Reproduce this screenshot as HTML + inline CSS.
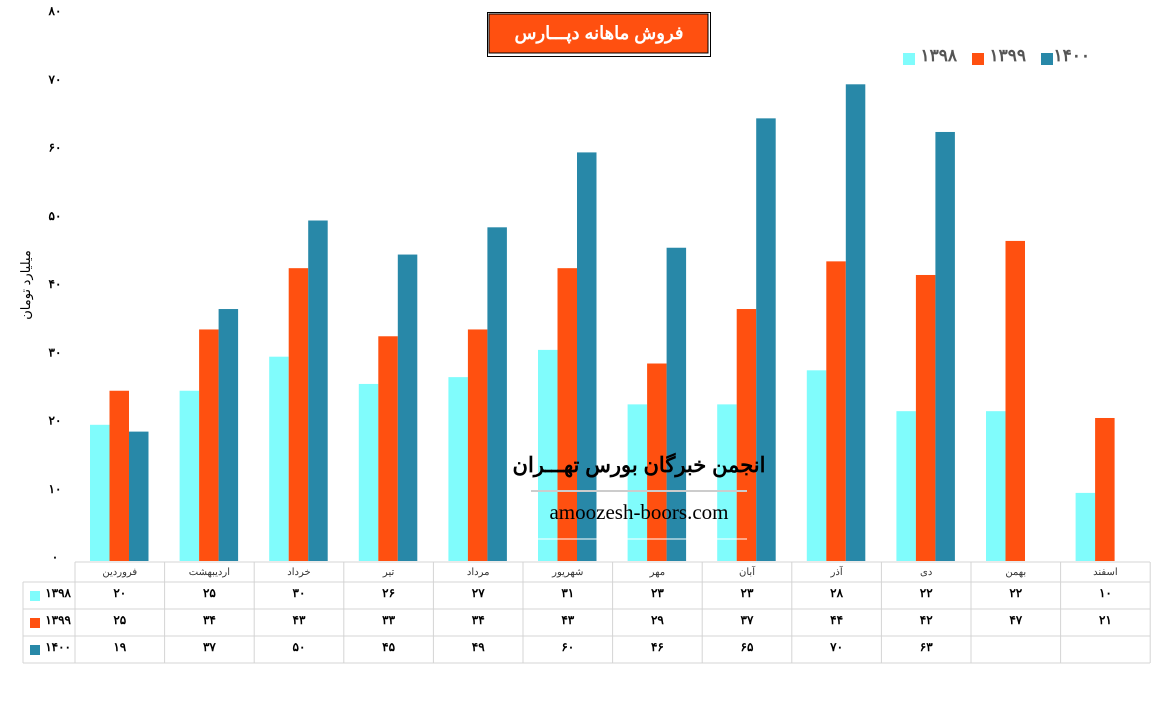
<!DOCTYPE html>
<html><head><meta charset="utf-8"><style>
body{margin:0;background:#fff;width:1163px;height:715px;overflow:hidden}
svg text{font-family:"Liberation Sans","Noto Sans CJK SC",sans-serif}
svg text.serif{font-family:"Liberation Serif",serif}
</style></head><body>
<svg id="s" width="1163" height="715" xmlns="http://www.w3.org/2000/svg"></svg>
<script>
const fa=n=>String(n).replace(/\d/g,d=>'۰۱۲۳۴۵۶۷۸۹'[d]);
const C=['#80fcfc','#ff5010','#2888a8'];
const D=[[20,25,30,26,27,31,23,23,28,22,22,10],[25,34,43,33,34,43,29,37,44,42,47,21],[19,37,50,45,49,60,46,65,70,63,null,null]];
const M=['فروردین','اردیبهشت','خرداد','تیر','مرداد','شهریور','مهر','آبان','آذر','دی','بهمن','اسفند'];
let h='';
const base=561,k=6.81;
for(let v=0;v<=80;v+=10){h+=`<text x="55" y="${557-v*6.825+4}" font-size="12" font-weight="bold" text-anchor="middle">${fa(v)}</text>`;}
h+=`<text transform="translate(30,285) rotate(-90)" font-size="13" text-anchor="middle">میلیارد تومان</text>`;
const cw=89.6;
for(let i=0;i<12;i++){for(let s=0;s<3;s++){const v=D[s][i];if(v==null)continue;const x=75+i*cw+15+s*19.5;h+=`<rect x="${x}" y="${base-v*k}" width="19.5" height="${v*k}" fill="${C[s]}"/>`;}}
h+=`<text x="639" y="472" font-size="21" font-weight="bold" text-anchor="middle">انجمن خبرگان بورس تهـــران</text>`;
h+=`<line x1="531" y1="491" x2="747" y2="491" stroke="#ccc" stroke-width="2"/>`;
h+=`<text class="serif" x="639" y="519" font-size="21" text-anchor="middle">amoozesh-boors.com</text>`;
h+=`<line x1="538" y1="539" x2="747" y2="539" stroke="#fff" stroke-width="1"/>`;
const g='#d4d4d4';
h+=`<line x1="75" y1="562" x2="1150" y2="562" stroke="${g}"/>`;
[582,609,636,663].forEach(y=>h+=`<line x1="23" y1="${y}" x2="1150" y2="${y}" stroke="${g}"/>`);
h+=`<line x1="23" y1="582" x2="23" y2="663" stroke="${g}"/>`;
for(let i=0;i<=12;i++){const x=75+i*cw;h+=`<line x1="${x}" y1="562" x2="${x}" y2="663" stroke="${g}"/>`;}
for(let i=0;i<12;i++){const cx=75+i*cw+cw/2;h+=`<text x="${cx}" y="575" font-size="10" text-anchor="middle" fill="#333">${M[i]}</text>`;
for(let s=0;s<3;s++){const v=D[s][i];if(v==null)continue;h+=`<text x="${cx}" y="${597+s*27}" font-size="12" font-weight="bold" text-anchor="middle">${fa(v)}</text>`;}}
['۱۳۹۸','۱۳۹۹','۱۴۰۰'].forEach((t,s)=>{h+=`<rect x="30" y="${591+s*27}" width="10" height="10" fill="${C[s]}"/><text x="71" y="${597+s*27}" font-size="12" font-weight="bold" text-anchor="end">${t}</text>`;});
h+=`<rect x="487.5" y="12.5" width="223" height="44" fill="#fff" stroke="#000"/><rect x="489" y="14" width="219" height="39" fill="#ff5010" stroke="#000"/>`;
h+=`<text x="599" y="39" font-size="18" font-weight="bold" fill="#fff" text-anchor="middle">فروش ماهانه دپـــارس</text>`;
[['۱۳۹۸',903,957],['۱۳۹۹',972,1026],['۱۴۰۰',1041,1090]].forEach((a,s)=>{h+=`<rect x="${a[1]}" y="53" width="12" height="12" fill="${C[s]}"/><text x="${a[2]}" y="61" font-size="17" font-weight="bold" fill="#555" text-anchor="end">${a[0]}</text>`;});
document.getElementById('s').innerHTML=h;
</script>
</body></html>
